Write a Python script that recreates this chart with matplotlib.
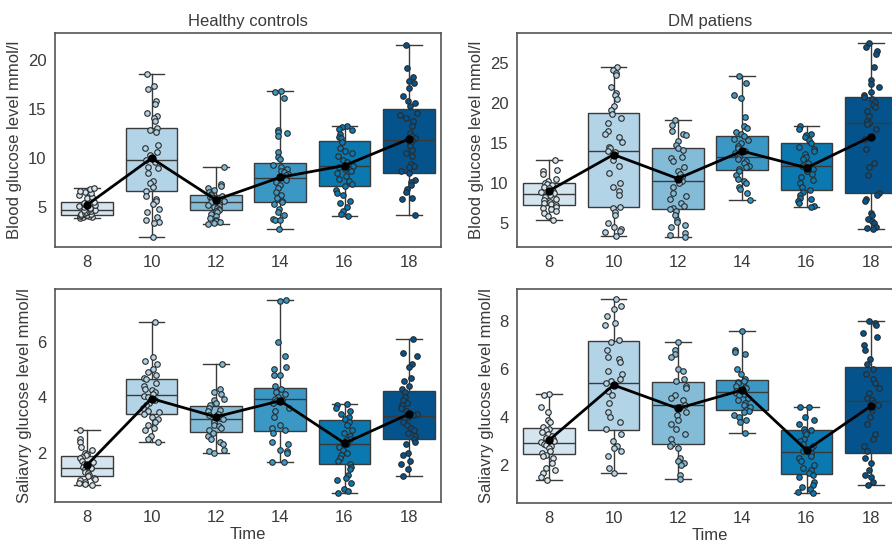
import numpy as np
import matplotlib
matplotlib.use("Agg")
import matplotlib.pyplot as plt

plt.rcParams['font.family'] = ['Liberation Sans', 'DejaVu Sans']

times = [8, 10, 12, 14, 16, 18]
colors = ['#d4e5f0', '#b3d3e6', '#84bcd8', '#3b98c5', '#0b78b0', '#04538c']

# ---- Healthy controls, blood glucose ----
hc_blood_pts = [
    [3.9, 4.0, 4.0, 4.1, 4.1, 4.15, 4.2, 4.2, 4.3, 4.3, 4.4, 4.5, 4.5, 4.6, 4.6, 4.7, 4.7,
     4.8, 4.9, 5.0, 5.1, 5.2, 5.3, 5.4, 5.5, 5.7, 5.9, 6.0, 6.2, 6.4, 6.5, 6.6, 6.8, 6.9],
    [18.5, 17.3, 17.0, 15.8, 15.5, 14.5, 14.2, 14.0, 13.7, 13.0, 12.8, 12.6, 11.3, 11.0, 10.6,
     10.3, 10.0, 9.8, 9.6, 9.0, 8.9, 8.4, 7.6, 7.4, 7.0, 6.6, 6.1, 5.8, 5.6, 5.3, 4.8, 4.5,
     4.0, 3.6, 3.4, 3.3, 1.9],
    [9.0, 7.3, 7.1, 6.9, 6.7, 6.5, 6.3, 6.2, 6.1, 6.0, 5.9, 5.8, 5.7, 5.6, 5.5, 5.5, 5.4, 5.3,
     5.2, 5.1, 5.0, 4.9, 4.8, 4.7, 4.6, 4.5, 4.3, 4.1, 3.9, 3.7, 3.5, 3.4, 3.3, 3.2],
    [16.8, 16.7, 16.1, 12.8, 12.6, 12.5, 12.2, 10.6, 10.1, 9.9, 9.3, 9.0, 8.8, 8.6, 8.5, 8.3,
     8.2, 8.0, 7.9, 7.7, 7.5, 7.2, 6.9, 6.5, 6.2, 5.9, 5.6, 5.5, 5.3, 4.8, 4.5, 4.2, 3.8, 3.7,
     3.6, 2.7],
    [13.2, 13.1, 12.9, 12.8, 12.4, 12.1, 12.0, 11.6, 11.0, 10.7, 10.5, 10.2, 9.8, 9.6, 9.4,
     9.2, 9.0, 8.8, 8.6, 8.4, 8.1, 7.8, 7.6, 7.3, 7.1, 6.7, 6.4, 6.2, 5.6, 5.4, 5.0, 4.6, 4.3,
     4.1],
    [21.5, 19.1, 18.2, 17.8, 17.6, 17.1, 16.3, 15.8, 15.6, 15.3, 14.6, 14.3, 14.0, 13.7, 13.2,
     12.5, 12.2, 12.0, 11.8, 11.5, 11.2, 10.8, 10.5, 10.2, 9.4, 9.2, 9.0, 8.6, 8.4, 7.7, 7.5,
     7.2, 6.8, 6.5, 5.9, 5.8, 4.2],
]
hc_blood_q1 = [4.15, 6.64, 4.66, 5.45, 7.12, 8.45]
hc_blood_med = [4.66, 9.78, 5.5, 7.9, 9.2, 11.75]
hc_blood_q3 = [5.45, 13.0, 6.2, 9.44, 11.72, 14.96]
hc_blood_lo = [3.9, 1.9, 3.2, 2.7, 4.1, 4.2]
hc_blood_hi = [6.9, 18.5, 9.0, 16.8, 13.2, 21.5]
hc_blood_mean = [5.2, 9.95, 5.7, 8.0, 9.2, 11.9]

# ---- DM patients, blood glucose ----
dm_blood_pts = [
    [12.9, 11.7, 11.5, 11.2, 10.6, 10.3, 10.1, 9.9, 9.8, 9.6, 9.4, 9.2, 9.0, 8.9, 8.8, 8.7,
     8.6, 8.5, 8.3, 8.1, 7.9, 7.7, 7.5, 7.4, 7.3, 7.1, 6.9, 6.8, 6.6, 6.3, 5.9, 5.4],
    [24.6, 24.2, 23.8, 23.6, 22.1, 21.3, 21.0, 20.6, 19.7, 19.2, 18.7, 18.2, 17.5, 16.6, 16.2,
     15.8, 15.2, 14.6, 14.4, 14.1, 13.9, 12.9, 12.2, 11.3, 10.0, 9.6, 9.0, 8.6, 7.0, 6.9, 6.4,
     6.0, 5.0, 4.6, 4.3, 4.1, 3.9, 3.4],
    [17.9, 17.3, 16.6, 16.2, 16.0, 15.3, 14.8, 14.4, 14.2, 13.3, 13.2, 12.8, 12.1, 11.5, 11.2,
     10.8, 10.5, 10.3, 10.0, 9.6, 8.8, 8.4, 8.1, 7.6, 7.2, 6.9, 6.8, 6.5, 6.0, 5.4, 5.2, 4.8,
     4.5, 3.8, 3.6, 3.3],
    [23.4, 22.6, 21.0, 20.7, 18.3, 17.2, 16.9, 16.4, 16.2, 15.9, 15.6, 15.4, 15.0, 14.7, 14.4,
     14.1, 13.8, 13.5, 13.3, 13.1, 12.8, 12.5, 12.2, 12.0, 11.8, 11.6, 11.1, 10.6, 10.3, 10.0,
     9.6, 9.3, 8.8, 7.9],
    [17.2, 16.8, 16.2, 16.0, 15.8, 15.4, 15.0, 14.6, 14.3, 14.0, 13.7, 13.3, 13.0, 12.6, 12.2,
     12.0, 11.8, 11.5, 11.2, 10.8, 10.4, 10.0, 9.6, 9.2, 8.9, 8.5, 8.2, 8.0, 7.8, 7.6, 7.2, 7.0],
    [27.5, 27.0, 26.6, 26.2, 24.5, 22.9, 22.4, 22.0, 21.4, 21.0, 20.8, 20.5, 20.2, 19.8, 19.5,
     19.1, 18.4, 17.8, 17.6, 17.4, 16.8, 15.5, 14.3, 12.6, 12.0, 11.0, 8.8, 8.5, 8.0, 7.8, 6.3,
     6.0, 5.6, 5.3, 5.0, 4.6, 4.4, 4.3],
]
dm_blood_q1 = [7.33, 7.0, 6.83, 11.7, 9.16, 8.75]
dm_blood_med = [8.7, 14.08, 10.3, 13.3, 12.16, 17.6]
dm_blood_q3 = [10.08, 18.83, 14.37, 15.9, 15.0, 20.75]
dm_blood_lo = [5.4, 3.4, 3.3, 7.9, 7.0, 4.3]
dm_blood_hi = [12.9, 24.6, 17.9, 23.4, 17.2, 27.5]
dm_blood_mean = [9.08, 13.6, 10.6, 14.04, 11.95, 15.83]

# ---- Healthy controls, saliva glucose ----
hc_sal_pts = [
    [2.8, 2.5, 2.4, 2.2, 2.1, 2.0, 1.95, 1.9, 1.85, 1.8, 1.7, 1.65, 1.6, 1.55, 1.5, 1.45, 1.45,
     1.4, 1.35, 1.3, 1.25, 1.2, 1.15, 1.1, 1.05, 1.0, 0.95, 0.9, 0.88, 0.85],
    [6.7, 5.45, 5.3, 5.2, 5.0, 4.9, 4.8, 4.7, 4.65, 4.5, 4.4, 4.3, 4.25, 4.2, 4.1, 4.05, 4.0,
     3.9, 3.8, 3.7, 3.6, 3.5, 3.45, 3.4, 3.3, 3.2, 3.1, 3.0, 2.9, 2.8, 2.6, 2.5, 2.4],
    [5.2, 4.3, 4.2, 4.1, 3.95, 3.9, 3.8, 3.7, 3.6, 3.55, 3.5, 3.4, 3.35, 3.3, 3.25, 3.2, 3.15,
     3.1, 3.0, 2.95, 2.9, 2.8, 2.7, 2.6, 2.5, 2.4, 2.3, 2.1, 2.05, 2.0],
    [7.5, 7.45, 6.0, 5.5, 5.1, 5.0, 4.8, 4.8, 4.4, 4.3, 4.2, 4.1, 4.0, 3.95, 3.9, 3.85, 3.8,
     3.6, 3.5, 3.3, 3.0, 2.9, 2.8, 2.7, 2.4, 2.3, 2.1, 2.05, 2.0, 1.65, 1.65],
    [3.75, 3.7, 3.6, 3.5, 3.4, 3.3, 3.2, 3.1, 3.0, 2.8, 2.7, 2.6, 2.5, 2.45, 2.4, 2.35, 2.3,
     2.2, 2.1, 2.0, 1.9, 1.8, 1.7, 1.6, 1.5, 1.4, 1.2, 1.1, 1.0, 0.9, 0.7, 0.6, 0.54],
    [6.1, 5.6, 5.5, 5.2, 5.1, 4.7, 4.6, 4.4, 4.3, 4.2, 4.0, 3.9, 3.8, 3.7, 3.6, 3.5, 3.4, 3.35,
     3.3, 3.2, 3.1, 3.0, 2.9, 2.8, 2.7, 2.6, 2.5, 2.4, 2.3, 2.0, 1.9, 1.7, 1.6, 1.4, 1.14],
]
hc_sal_q1 = [1.17, 3.39, 2.76, 2.79, 1.59, 2.5]
hc_sal_med = [1.45, 4.07, 3.21, 3.92, 2.32, 3.31]
hc_sal_q3 = [1.88, 4.66, 3.69, 4.32, 3.17, 4.24]
hc_sal_lo = [0.85, 2.4, 2.0, 1.65, 0.54, 1.14]
hc_sal_hi = [2.8, 6.7, 5.2, 7.5, 3.75, 6.1]
hc_sal_mean = [1.56, 3.95, 3.29, 3.87, 2.34, 3.39]

# ---- DM patients, saliva glucose ----
dm_sal_pts = [
    [4.95, 4.9, 4.4, 4.2, 3.9, 3.8, 3.6, 3.5, 3.45, 3.4, 3.3, 3.2, 3.15, 3.1, 3.0, 2.95, 2.9,
     2.85, 2.8, 2.7, 2.6, 2.5, 2.45, 2.4, 2.3, 2.1, 1.9, 1.8, 1.7, 1.5, 1.4],
    [8.9, 8.6, 8.5, 8.2, 7.9, 7.8, 7.2, 7.1, 6.8, 6.5, 6.4, 6.3, 5.9, 5.8, 5.6, 5.5, 5.4, 5.1,
     4.9, 4.6, 4.2, 4.0, 3.8, 3.5, 3.3, 3.0, 2.8, 2.7, 2.6, 2.4, 1.9, 1.7],
    [7.1, 6.8, 6.6, 6.5, 6.0, 5.9, 5.6, 5.5, 5.3, 5.2, 4.9, 4.8, 4.7, 4.5, 4.4, 4.2, 4.1, 3.9,
     3.7, 3.5, 3.3, 3.1, 2.9, 2.8, 2.7, 2.3, 2.2, 2.1, 2.0, 1.6, 1.42],
    [7.56, 6.8, 6.7, 6.6, 6.0, 5.8, 5.6, 5.5, 5.45, 5.4, 5.3, 5.25, 5.2, 5.1, 5.05, 5.0, 4.95,
     4.9, 4.8, 4.7, 4.6, 4.5, 4.4, 4.3, 4.25, 4.2, 4.1, 4.0, 3.9, 3.8, 3.33],
    [4.43, 4.4, 4.0, 3.9, 3.7, 3.5, 3.45, 3.4, 3.3, 3.1, 3.0, 2.9, 2.8, 2.7, 2.6, 2.55, 2.5,
     2.4, 2.3, 2.2, 2.0, 1.9, 1.8, 1.7, 1.6, 1.5, 1.3, 1.2, 1.1, 1.0, 0.9, 0.84],
    [8.0, 7.9, 7.8, 7.5, 7.3, 7.0, 6.8, 6.4, 6.2, 6.0, 5.8, 5.6, 5.4, 5.2, 5.0, 4.8, 4.7, 4.6,
     4.5, 4.3, 4.0, 3.7, 3.3, 3.1, 2.8, 2.6, 2.3, 2.1, 1.8, 1.6, 1.5, 1.3, 1.17],
]
dm_sal_q1 = [2.46, 3.47, 2.9, 4.29, 1.63, 2.5]
dm_sal_med = [2.94, 5.4, 4.5, 5.05, 2.56, 4.68]
dm_sal_q3 = [3.55, 7.15, 5.46, 5.55, 3.47, 6.09]
dm_sal_lo = [1.4, 1.7, 1.42, 3.33, 0.84, 1.17]
dm_sal_hi = [4.95, 8.9, 7.1, 7.56, 4.43, 8.0]
dm_sal_mean = [3.05, 5.33, 4.36, 5.12, 2.63, 4.46]

W, H = 892, 543
fig = plt.figure(figsize=(W / 100, H / 100), dpi=100)

def px_axes(l, t, r, b):
    return fig.add_axes([l / W, 1 - b / H, (r - l) / W, (b - t) / H])

panels = [
    (px_axes(55, 33, 441, 247), hc_blood_pts, hc_blood_q1, hc_blood_med, hc_blood_q3,
     hc_blood_lo, hc_blood_hi, hc_blood_mean, (0.9, 22.7), [5, 10, 15, 20],
     'Blood glucose level mmol/l', 'Healthy controls', ''),
    (px_axes(517, 33, 903, 247), dm_blood_pts, dm_blood_q1, dm_blood_med, dm_blood_q3,
     dm_blood_lo, dm_blood_hi, dm_blood_mean, (2.05, 28.8), [5, 10, 15, 20, 25],
     'Blood glucose level mmol/l', 'DM patiens', ''),
    (px_axes(55, 289, 441, 502), hc_sal_pts, hc_sal_q1, hc_sal_med, hc_sal_q3,
     hc_sal_lo, hc_sal_hi, hc_sal_mean, (0.22, 7.9), [2, 4, 6],
     'Saliavry glucose level mmol/l', '', 'Time'),
    (px_axes(517, 289, 903, 503), dm_sal_pts, dm_sal_q1, dm_sal_med, dm_sal_q3,
     dm_sal_lo, dm_sal_hi, dm_sal_mean, (0.44, 9.31), [2, 4, 6, 8],
     'Saliavry glucose level mmol/l', '', 'Time'),
]

rng = np.random.default_rng(3)
edge = '#3a3a3a'
txt = '#3a3a3a'

for ax, pts, q1, med, q3, lo, hi, mean, ylim, yticks, ylab, title, xlab in panels:
    stats = []
    for i in range(len(times)):
        stats.append(dict(q1=q1[i], med=med[i], q3=q3[i], whislo=lo[i], whishi=hi[i],
                          fliers=[]))
    bp = ax.bxp(stats, positions=range(len(times)), widths=0.8, capwidths=0.4,
                patch_artist=True, showfliers=False,
                boxprops=dict(edgecolor=edge, linewidth=1.0),
                medianprops=dict(color=edge, linewidth=1.0),
                whiskerprops=dict(color=edge, linewidth=1.0),
                capprops=dict(color=edge, linewidth=1.0))
    for patch, c in zip(bp['boxes'], colors):
        patch.set_facecolor(c)
    for i, vals in enumerate(pts):
        jit = rng.uniform(-0.13, 0.13, len(vals))
        ax.scatter(i + jit, vals, s=16, color=colors[i], edgecolor='#2a2a2a',
                   linewidth=0.8, zorder=3)
    ax.plot(range(len(times)), mean, color='black', linewidth=2, marker='o',
            markersize=5, zorder=4)
    ax.set_xlim(-0.5, 5.5)
    ax.set_ylim(*ylim)
    ax.set_yticks(yticks)
    ax.set_xticks(range(len(times)))
    ax.set_xticklabels([str(t) for t in times])
    ax.tick_params(length=0, labelsize=12, labelcolor=txt, pad=6)
    ax.set_ylabel(ylab, fontsize=12, color=txt)
    if title:
        ax.set_title(title, fontsize=12, color=txt, pad=5)
    if xlab:
        ax.set_xlabel(xlab, fontsize=12, color=txt, labelpad=1)
    for s in ax.spines.values():
        s.set_color('#555555')
        s.set_linewidth(1.2)

fig.savefig('out.png', dpi=100)
